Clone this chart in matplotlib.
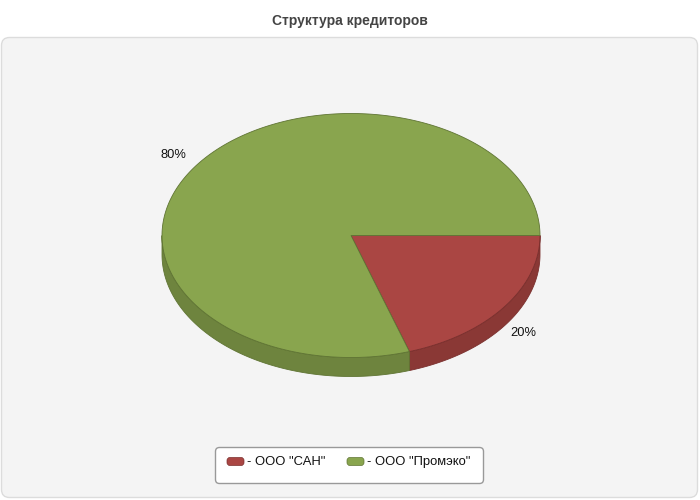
import numpy as np
import matplotlib
matplotlib.use("Agg")
import matplotlib.pyplot as plt
from matplotlib.patches import Polygon, FancyBboxPatch

plt.rcParams['font.family'] = ['Liberation Sans', 'DejaVu Sans']

title = "Структура кредиторов"
categories = ['ООО "САН"', 'ООО "Промэко"']
values = [20, 80]
labels = ["20%", "80%"]
top_colors = ["#AA4643", "#89A54E"]
side_colors = ["#8A3835", "#6E843E"]
edge_colors = ["#7a2f2d", "#5f7433"]

fig = plt.figure(figsize=(7, 5), dpi=100)
ax = fig.add_axes([0, 0, 1, 1])
ax.set_xlim(0, 700)
ax.set_ylim(500, 0)
ax.axis('off')

# panel
panel = FancyBboxPatch((1.5, 37.5), 696, 460, boxstyle="round,pad=0,rounding_size=8",
                       fc="#f4f4f4", ec="#dcdcdc", lw=1)
ax.add_patch(panel)
fig.text(0.5, 1 - 21 / 500, title, ha='center', va='center', fontsize=10,
         fontweight='bold', color='#444444')

cx, cy, rx, ry, depth = 351, 235.5, 189, 122, 19
total = sum(values)
fracs = np.array(values) / total
bounds = np.concatenate([[0], np.cumsum(fracs)]) * 360.0


def pt(t, dy=0):
    r = np.radians(t)
    return cx + rx * np.cos(r), cy + ry * np.sin(r) + dy


# side walls (front half: 0..180 deg in screen coordinates)
for i in range(len(values)):
    a0, a1 = bounds[i], bounds[i + 1]
    s0, s1 = max(a0, 0), min(a1, 180)
    if s1 > s0:
        ts = np.linspace(s0, s1, 100)
        top = [pt(t) for t in ts]
        bot = [pt(t, depth) for t in ts[::-1]]
        ax.add_patch(Polygon(top + bot, closed=True, fc=side_colors[i],
                             ec=edge_colors[i], lw=0.6, zorder=2))

# top faces
for i in range(len(values)):
    a0, a1 = bounds[i], bounds[i + 1]
    ts = np.linspace(a0, a1, 300)
    pts = [(cx, cy)] + [pt(t) for t in ts]
    ax.add_patch(Polygon(pts, closed=True, fc=top_colors[i],
                         ec=edge_colors[i], lw=0.6, zorder=3))

# labels
label_pos = [(523, 333), (173, 155)]
for lab, (x, y) in zip(labels, label_pos):
    ax.text(x, y, lab, ha='center', va='center', fontsize=9.3, color='#111111', zorder=5)

# legend
leg = FancyBboxPatch((215.5, 447.5), 268, 36, boxstyle="round,pad=0,rounding_size=4",
                     fc="white", ec="#999999", lw=1, zorder=4)
ax.add_patch(leg)
sw_x = [227, 347]
tx_x = [247, 367]
for i, cat in enumerate(categories):
    ax.add_patch(FancyBboxPatch((sw_x[i], 457.5), 17, 8, boxstyle="round,pad=0,rounding_size=3",
                                fc=top_colors[i], ec=edge_colors[i], lw=0.5, zorder=5))
    ax.text(tx_x[i], 462, "- " + cat, ha='left', va='center', fontsize=9.4,
            color='#111111', zorder=5)

fig.savefig("out.png", dpi=100)
